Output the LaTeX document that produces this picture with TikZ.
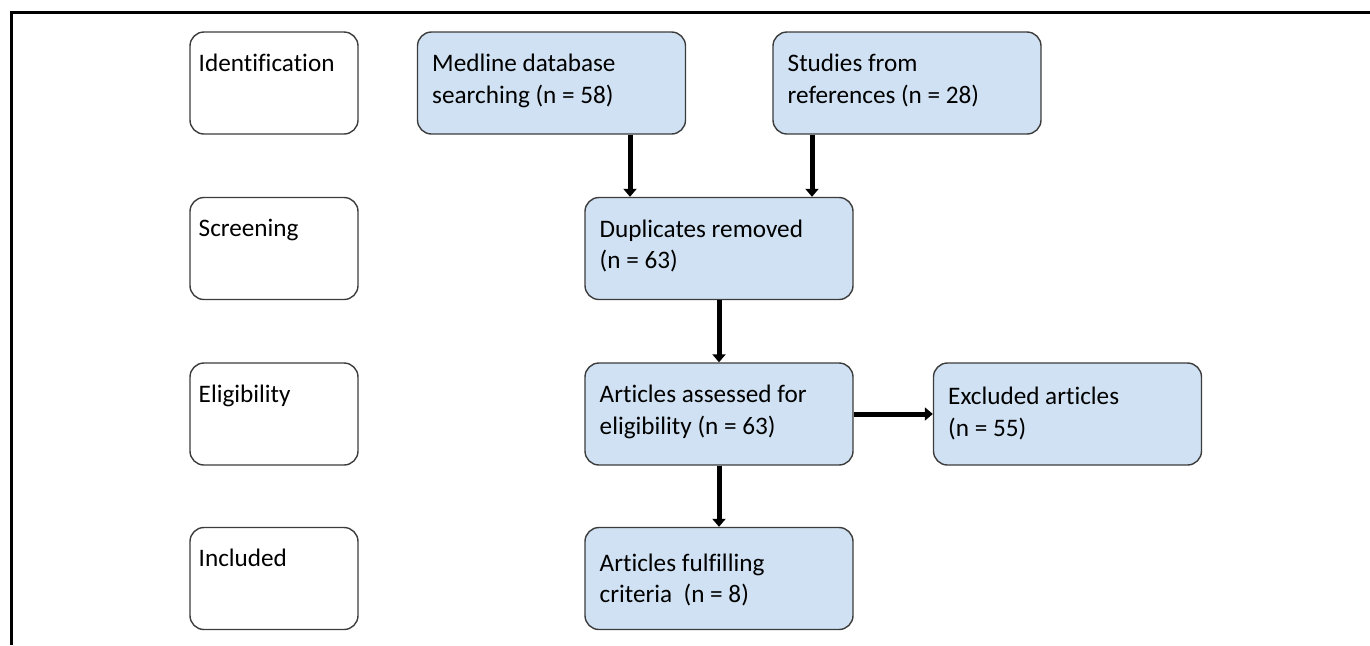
\documentclass[tikz,border=0pt]{standalone}
\usepackage{fontspec}
\setmainfont{Carlito}[Ligatures=CommonOff]
\usetikzlibrary{arrows.meta}
\definecolor{boxblue}{RGB}{207,225,242}
\definecolor{boxline}{RGB}{60,60,60}

\begin{document}
\begin{tikzpicture}[x=0.5pt, y=-0.5pt,
	stage/.style={draw=boxline, line width=0.7pt, rounded corners=7pt, minimum width=84pt, minimum height=51pt, inner sep=0pt},
	study/.style={stage, fill=boxblue, minimum width=134pt},
	txt/.style={anchor=base west, inner sep=0pt, align=left, font=\fontsize{12.6}{15.75}\selectfont},
	flow/.style={line width=2.5pt, -{Triangle[length=4pt, width=6.5pt]}}]
		\useasboundingbox (0,0) rectangle (1370,645);
		%frame
		\draw[line width=1.5pt] (1370,12) -- (11,12) -- (11,645);
		
		%stages
		\foreach \name/\y/\lbl in {ident/83/Identification, screen/248.5/Screening, elig/414/Eligibility, incl/578.5/Included}{
			\node[stage] (\name) at (274,\y) {};
			\node[txt] (\name-t) at ([shift={(9,40)}]\name.north west) {\lbl};
		}
		
		%studies (base anchor sits on the second line)
		\foreach \name/\x/\y/\dy/\lbl in {med/551.5/83/72/{Medline database\\searching (n = 58)},
			stud/907/83/72/{Studies from\\references (n = 28)},
			dup/719/248.5/72/{Duplicates removed\\(n = 63)},
			assess/719/414/72/{Articles assessed for\\eligibility (n = 63)},
			excl/1067.5/414/74/{Excluded articles\\(n = 55)},
			ful/719/578.5/76/{Articles fulfilling\\criteria~ (n = 8)}}{
			\node[study] (\name) at (\x,\y) {};
			\node[txt] (\name-t) at ([shift={(15,\dy)}]\name.north west) {\lbl};
		}
		
		%arrows
		\coordinate (c1) at (630,0);
		\coordinate (c2) at (812,0);
		\draw[flow] (med.south -| c1) -- (dup.north -| c1);
		\draw[flow] (stud.south -| c2) -- (dup.north -| c2);
		\draw[flow] (dup.south) -- (assess.north);
		\draw[flow] (assess.east) -- (excl.west);
		\draw[flow] (assess.south) -- (ful.north);
\end{tikzpicture}
\end{document}
